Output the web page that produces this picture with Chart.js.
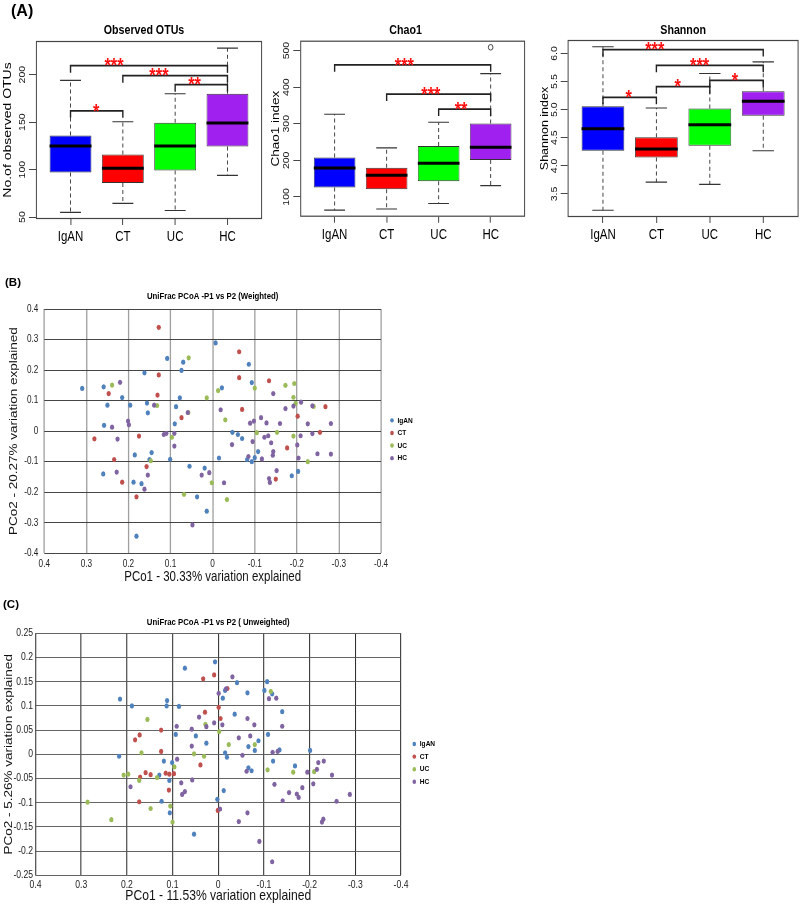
<!DOCTYPE html>
<html><head><meta charset="utf-8">
<script src="https://cdn.jsdelivr.net/npm/chart.js@4.4.1/dist/chart.umd.min.js"></script>
<style>
html,body{margin:0;padding:0;background:#fff;}
body{width:800px;height:905px;position:relative;overflow:hidden;}
canvas{position:absolute;}
.lab{position:absolute;font-family:"Liberation Sans",Arial,sans-serif;font-weight:bold;color:#000;line-height:1;}
</style></head><body>
<canvas id="a1"></canvas>
<canvas id="a2"></canvas>
<canvas id="a3"></canvas>
<canvas id="b"></canvas>
<canvas id="c"></canvas>
<div class="lab" style="left:11px;top:3px;font-size:16px;">(A)</div>
<div class="lab" style="left:5px;top:277px;font-size:11.5px;">(B)</div>
<div class="lab" style="left:3px;top:599px;font-size:11.5px;">(C)</div>
<script>
// ---------- shared ----------
const groups = ['IgAN', 'CT', 'UC', 'HC'];
const boxFill = ['#0000FF', '#FF0000', '#00FF00', '#A020F0'];

// ---------- (A) Observed OTUs ----------
const otuMin = [55, 64.5, 57, 94];
const otuQ1  = [97, 86, 99, 124.5];
const otuMed = [125, 101.5, 125, 149];
const otuQ3  = [136, 116, 149.5, 180];
const otuMax = [194, 150.5, 180, 228];
const otuOutliers = [[], [], [], []];
const otuTicks = [50, 100, 150, 200];
const otuTickLabels = ['50', '100', '150', '200'];
const otuSigFrom = [1, 2, 3, 1];
const otuSigTo = [4, 4, 4, 2];
const otuSigLevel = [209.5, 199, 189.5, 162];
const otuSigMark = ['***', '***', '**', '*'];
const otuSigMarkAt = [1.83, 2.69, 3.37, 1.49];

// ---------- (A) Chao1 ----------
const chaoMin = [64, 67, 82, 131];
const chaoQ1  = [126, 121, 143, 201];
const chaoMed = [179, 159, 192, 236];
const chaoQ3  = [208, 180, 239, 301];
const chaoMax = [326, 234, 304, 437];
const chaoOutliers = [[], [], [], [509]];
const chaoTicks = [100, 200, 300, 400, 500];
const chaoTickLabels = ['100', '200', '300', '400', '500'];
const chaoSigFrom = [1, 2, 3];
const chaoSigTo = [4, 4, 4];
const chaoSigLevel = [461, 381, 340];
const chaoSigMark = ['***', '***', '**'];
const chaoSigMarkAt = [2.34, 2.85, 3.43];

// ---------- (A) Shannon ----------
const shanMin = [3.21, 3.71, 3.67, 4.27];
const shanQ1  = [4.27, 4.15, 4.36, 4.89];
const shanMed = [4.66, 4.30, 4.73, 5.15];
const shanQ3  = [5.06, 4.51, 5.02, 5.33];
const shanMax = [6.12, 5.03, 5.645, 5.85];
const shanOutliers = [[], [], [], []];
const shanTicks = [3.5, 4.0, 4.5, 5.0, 5.5, 6.0];
const shanTickLabels = ['3.5', '4.0', '4.5', '5.0', '5.5', '6.0'];
const shanSigFrom = [1, 2, 3, 2, 1];
const shanSigTo = [4, 4, 4, 3, 2];
const shanSigLevel = [6.07, 5.79, 5.52, 5.41, 5.22];
const shanSigMark = ['***', '***', '*', '*', '*'];
const shanSigMarkAt = [1.97, 2.81, 3.47, 2.40, 1.48];

// ---------- (B) weighted UniFrac PCoA ----------
const wIgANx = [0.310,0.259,0.250,0.258,0.215,0.196,0.162,0.156,0.154,0.108,0.070,0.074,0.078,0.087,0.090,0.260,0.185,0.145,0.150,0.188,0.169,0.181,0.101,0.055,0.019,0.037,0.014,-0.007,-0.022,-0.015,-0.047,-0.060,-0.070,-0.086,-0.093,-0.082,-0.093,-0.100,-0.108,-0.188,-0.203];
const wIgANy = [0.140,0.145,0.085,0.019,0.110,0.085,0.191,0.092,0.060,0.238,0.226,0.199,0.109,0.080,0.024,-0.140,-0.078,-0.070,-0.093,-0.167,-0.172,-0.344,-0.092,-0.115,-0.121,-0.215,-0.262,0.289,0.142,-0.088,-0.004,-0.011,-0.024,0.219,0.159,-0.093,-0.100,-0.087,-0.067,-0.146,-0.132];
const wCTx = [0.128,0.128,0.131,0.247,0.281,0.175,0.234,0.215,0.157,0.181,0.074,-0.063,-0.063,-0.070,-0.134,-0.202,-0.177,-0.150,-0.268,-0.255];
const wCTy = [0.340,0.184,0.118,0.123,-0.025,-0.016,-0.093,-0.167,-0.116,-0.215,0.044,0.260,0.175,0.071,0.165,0.049,-0.055,-0.157,0.080,-0.004];
const wUCx = [0.239,0.132,0.057,0.058,0.014,-0.013,-0.030,0.097,0.147,0.068,0.002,-0.034,-0.100,-0.105,-0.173,-0.194,-0.192,-0.197,-0.153,-0.192,-0.240,-0.226];
const wUCy = [0.151,0.084,0.240,0.061,0.109,0.133,0.037,-0.020,-0.097,-0.207,-0.169,-0.224,0.141,-0.005,0.150,0.156,0.111,0.091,-0.004,-0.016,0.081,-0.100];
const wHCx = [0.220,0.239,0.226,0.228,0.201,0.199,0.139,0.116,0.110,0.091,0.091,0.154,0.162,0.059,0.048,0.026,0.008,-0.027,-0.019,-0.046,-0.089,-0.098,-0.095,-0.085,-0.115,-0.128,-0.123,-0.132,-0.117,-0.139,-0.144,-0.143,-0.134,-0.136,-0.152,-0.144,-0.173,-0.160,-0.192,-0.210,-0.201,-0.204,-0.209,-0.226,-0.237,-0.237,-0.249,-0.281,-0.281];
const wHCy = [0.160,0.013,-0.026,-0.134,0.033,0.021,0.085,-0.011,-0.007,-0.007,-0.049,-0.144,-0.190,0.061,-0.307,-0.144,-0.136,-0.169,0.070,-0.044,0.026,0.033,-0.034,-0.083,0.044,0.027,-0.020,-0.015,-0.091,-0.038,-0.067,-0.079,-0.155,-0.168,-0.129,0.123,0.074,0.025,0.082,0.095,-0.045,-0.088,-0.015,0.024,0.083,-0.008,-0.074,0.025,-0.075];
const wYTicks = [-0.4,-0.3,-0.2,-0.1,0,0.1,0.2,0.3,0.4];
const wYTickLabels = ['-0.4','-0.3','-0.2','-0.1','0','0.1','0.2','0.3','0.4'];

// ---------- (C) unweighted UniFrac PCoA ----------
const uIgANx = [0.215,0.189,0.217,0.112,0.113,0.086,0.073,0.093,0.119,0.101,0.129,0.107,0.124,0.106,0.049,0.026,0.053,0.007,-0.010,-0.015,-0.041,-0.036,-0.015,-0.019,-0.012,0.002,-0.064,-0.066,-0.066,-0.073,-0.080,-0.088,-0.101,-0.107,-0.118,-0.109,-0.140,-0.134,-0.120,-0.168,-0.201];
const uIgANy = [0.114,0.100,-0.004,0.111,0.100,0.099,0.178,0.041,-0.014,-0.017,-0.043,-0.054,-0.097,-0.121,0.038,0.023,-0.165,0.191,0.116,0.132,0.148,0.083,0.003,-0.006,-0.075,-0.093,0.127,0.016,-0.028,-0.034,0.008,0.028,0.132,0.150,0.125,0.041,0.088,0.009,-0.014,-0.024,0.008];
const uCTx = [0.033,0.009,-0.020,0.029,-0.001,-0.005,0.125,0.172,0.182,0.125,0.039,0.159,0.148,0.171,0.115,0.107,0.097,0.108,0.173,0.001];
const uCTy = [0.156,0.164,0.136,0.087,0.097,0.074,0.050,0.040,0.030,0.006,-0.022,-0.038,-0.042,-0.047,-0.039,-0.041,-0.040,-0.074,-0.098,-0.116];
const uUCx = [0.155,0.168,0.207,0.197,0.173,0.134,0.286,0.234,0.148,0.105,0.100,0.096,0.053,0.031,0.028,-0.002,-0.023,-0.080,-0.108,-0.115,-0.164,-0.210];
const uUCy = [0.072,0.003,-0.043,-0.041,-0.054,-0.048,-0.099,-0.135,-0.112,-0.107,-0.140,-0.026,0.001,-0.004,0.062,0.047,0.020,0.020,-0.032,0.130,-0.037,-0.036];
const uHCx = [0.192,0.090,0.091,0.058,0.058,0.057,0.081,0.073,0.079,0.042,0.026,0.009,-0.001,-0.009,-0.017,-0.031,-0.004,-0.045,-0.053,-0.045,-0.064,-0.070,-0.079,-0.062,-0.064,-0.090,-0.111,-0.127,-0.140,-0.119,-0.130,-0.123,-0.141,-0.118,-0.155,-0.172,-0.176,-0.184,-0.195,-0.208,-0.216,-0.219,-0.231,-0.249,-0.259,-0.230,-0.227,-0.288];
const uHCy = [-0.067,-0.010,0.058,0.052,0.017,-0.053,-0.059,-0.077,-0.083,0.077,0.057,0.065,0.126,0.061,0.135,0.160,-0.113,0.034,-0.002,-0.139,0.074,0.038,0.061,-0.035,-0.121,-0.180,0.115,0.116,0.058,0.004,0.006,-0.062,-0.096,-0.222,-0.079,-0.082,-0.089,-0.069,-0.037,-0.061,-0.031,-0.017,-0.014,-0.043,-0.097,-0.134,-0.140,-0.083];
const uYTicks = [-0.25,-0.2,-0.15,-0.1,-0.05,0,0.05,0.1,0.15,0.2,0.25];
const uYTickLabels = ['-0.25','-0.2','-0.15','-0.1','-0.05','0','0.05','0.1','0.15','0.2','0.25'];

const pcoXTicks = [-0.4,-0.3,-0.2,-0.1,0,0.1,0.2,0.3,0.4];
const pcoXTickLabels = ['-0.4','-0.3','-0.2','-0.1','0','0.1','0.2','0.3','0.4'];
const pcoColors = ['#4F81BD', '#C0504D', '#9BBB59', '#8064A2'];

// ---------- layout: the original figure is horizontally condensed ----------
const K = 0.82;
const FONT = '"Liberation Sans", Arial, sans-serif';

// draws each chart squeezed horizontally by K (crisp, inside the canvas)
const condense = {
  id: 'condense',
  beforeDraw(chart) { chart.ctx.save(); chart.ctx.scale(K, 1); },
  afterDraw(chart) { chart.ctx.restore(); }
};

// cv = canvas rect [left, top, w, h]; ca = plot area [l, t, r, b] (page px)
function setup(id, cv, ca) {
  const el = document.getElementById(id);
  const w = Math.round(cv[2] / K);
  el.width = w; el.height = cv[3];
  el.style.left = cv[0] + 'px'; el.style.top = cv[1] + 'px';
  return {
    el,
    pad: {left: 0, top: ca[1] - cv[1], right: w - (ca[2] - cv[0]) / K, bottom: 0},
    yW: (ca[0] - cv[0]) / K,
    xH: cv[1] + cv[3] - ca[3]
  };
}

function boxPlugin(s) {
  return {
    id: 'boxExtras',
    afterDatasetsDraw(chart) {
      const {ctx, chartArea: ca, scales: {x, y}} = chart;
      const meta = chart.getDatasetMeta(0);
      ctx.save();
      for (let i = 0; i < s.med.length; i++) {
        const cx = x.getPixelForValue(i + 1);
        const hw = meta.data[i].width / 2;
        ctx.strokeStyle = '#333'; ctx.lineWidth = 1.1;
        ctx.setLineDash([4, 3]);
        ctx.beginPath();
        ctx.moveTo(cx, y.getPixelForValue(s.q3[i])); ctx.lineTo(cx, y.getPixelForValue(s.max[i]));
        ctx.moveTo(cx, y.getPixelForValue(s.q1[i])); ctx.lineTo(cx, y.getPixelForValue(s.min[i]));
        ctx.stroke();
        ctx.setLineDash([]);
        ctx.beginPath();
        [s.max[i], s.min[i]].forEach(v => {
          const py = y.getPixelForValue(v);
          ctx.moveTo(cx - hw / 2, py); ctx.lineTo(cx + hw / 2, py);
        });
        ctx.stroke();
        ctx.lineWidth = 3; ctx.strokeStyle = '#000';
        const pm = y.getPixelForValue(s.med[i]);
        ctx.beginPath(); ctx.moveTo(cx - hw, pm); ctx.lineTo(cx + hw, pm); ctx.stroke();
        ctx.lineWidth = 1; ctx.strokeStyle = '#333';
        s.out[i].forEach(v => {
          ctx.beginPath(); ctx.arc(cx, y.getPixelForValue(v), 2.8, 0, Math.PI * 2); ctx.stroke();
        });
      }
      ctx.strokeStyle = '#444'; ctx.lineWidth = 1.2;
      ctx.strokeRect(ca.left + 0.5, ca.top + 0.5, ca.right - ca.left - 1, ca.bottom - ca.top - 1);
      for (let k = 0; k < s.sigFrom.length; k++) {
        const x1 = x.getPixelForValue(s.sigFrom[k]);
        const x2 = x.getPixelForValue(s.sigTo[k]);
        const py = y.getPixelForValue(s.sigLevel[k]);
        ctx.strokeStyle = '#222'; ctx.lineWidth = 1.7;
        ctx.beginPath();
        ctx.moveTo(x1, py + 7); ctx.lineTo(x1, py); ctx.lineTo(x2, py); ctx.lineTo(x2, py + 7);
        ctx.stroke();
        ctx.fillStyle = '#FF1010';
        ctx.font = 'bold 20px ' + FONT;
        ctx.textAlign = 'center'; ctx.textBaseline = 'alphabetic';
        ctx.fillText(s.sigMark[k], x.getPixelForValue(s.sigMarkAt[k]), py + 6.8);
      }
      ctx.fillStyle = '#111';
      ctx.font = '10.5px ' + FONT;
      s.ticks.forEach((v, i) => {
        const py = y.getPixelForValue(v);
        ctx.save();
        ctx.translate(ca.left - 13.5 / K, py);
        ctx.rotate(-Math.PI / 2);
        ctx.textAlign = 'center'; ctx.textBaseline = 'middle';
        ctx.fillText(s.tickLabels[i], 0, 0);
        ctx.restore();
      });
      ctx.fillStyle = '#000';
      ctx.font = 'bold 13px ' + FONT;
      ctx.textAlign = 'center'; ctx.textBaseline = 'middle';
      ctx.fillText(s.title, (ca.left + ca.right) / 2 + s.titleDx / K, 30);
      ctx.restore();
    }
  };
}

function makeBox(id, s) {
  const g = setup(id, s.cv, s.ca);
  return new Chart(g.el, {
    type: 'bar',
    data: {
      datasets: [{
        data: s.q1.map((q, i) => ({x: i + 1, y: [q, s.q3[i]]})),
        backgroundColor: boxFill,
        borderColor: '#333',
        borderWidth: 1,
        borderSkipped: false,
        barPercentage: 0.8,
        categoryPercentage: 1
      }]
    },
    options: {
      responsive: false, animation: false, events: [], devicePixelRatio: 1,
      layout: {padding: g.pad},
      plugins: {legend: {display: false}, tooltip: {enabled: false}},
      scales: {
        x: {
          type: 'linear', min: 0.34, max: 4.66, offset: false,
          afterBuildTicks: sc => { sc.ticks = groups.map((n, i) => ({value: i + 1})); },
          afterFit: sc => { sc.height = g.xH; },
          ticks: {callback: (v, i) => groups[i], font: {family: FONT, size: 14}, color: '#000', padding: 4, maxRotation: 0, autoSkip: false},
          grid: {offset: false, drawOnChartArea: false, drawTicks: true, tickLength: 6, color: '#333'},
          border: {display: false}
        },
        y: {
          type: 'linear', min: s.yMin, max: s.yMax,
          afterBuildTicks: sc => { sc.ticks = s.ticks.map(v => ({value: v})); },
          afterFit: sc => { sc.width = g.yW; },
          ticks: {display: false},
          grid: {drawOnChartArea: false, drawTicks: true, tickLength: 7 / K, color: '#333'},
          border: {display: false},
          title: {display: true, text: s.yTitle, font: {family: FONT, size: s.yTitleSize}, color: '#000',
                  padding: {top: s.yTitleCenter / K - s.yTitleSize * 0.6, bottom: 0}}
        }
      }
    },
    plugins: [boxPlugin(s), condense]
  });
}

makeBox('a1', {
  min: otuMin, q1: otuQ1, med: otuMed, q3: otuQ3, max: otuMax, out: otuOutliers,
  ticks: otuTicks, tickLabels: otuTickLabels,
  sigFrom: otuSigFrom, sigTo: otuSigTo, sigLevel: otuSigLevel, sigMark: otuSigMark, sigMarkAt: otuSigMarkAt,
  yMin: 48, yMax: 235.5, title: 'Observed OTUs', titleDx: -5,
  yTitle: 'No.of observed OTUs', yTitleSize: 14, yTitleCenter: 8,
  cv: [0, 0, 266, 258], ca: [36, 41, 262, 219]
});
makeBox('a2', {
  min: chaoMin, q1: chaoQ1, med: chaoMed, q3: chaoQ3, max: chaoMax, out: chaoOutliers,
  ticks: chaoTicks, tickLabels: chaoTickLabels,
  sigFrom: chaoSigFrom, sigTo: chaoSigTo, sigLevel: chaoSigLevel, sigMark: chaoSigMark, sigMarkAt: chaoSigMarkAt,
  yMin: 46, yMax: 527, title: 'Chao1', titleDx: -7,
  yTitle: 'Chao1 index', yTitleSize: 13.5, yTitleCenter: 9.5,
  cv: [266, 0, 264, 258], ca: [300.3, 40.7, 525, 216.7]
});
makeBox('a3', {
  min: shanMin, q1: shanQ1, med: shanMed, q3: shanQ3, max: shanMax, out: shanOutliers,
  ticks: shanTicks, tickLabels: shanTickLabels,
  sigFrom: shanSigFrom, sigTo: shanSigTo, sigLevel: shanSigLevel, sigMark: shanSigMark, sigMarkAt: shanSigMarkAt,
  yMin: 3.09, yMax: 6.24, title: 'Shannon', titleDx: 0,
  yTitle: 'Shannon index', yTitleSize: 12.5, yTitleCenter: 15,
  cv: [530, 0, 270, 258], ca: [567.7, 40, 798.5, 217]
});

function zip(xs, ys) { return xs.map((v, i) => ({x: v, y: ys[i]})); }

function pcoaPlugin(c) {
  return {
    id: 'pcoaExtras',
    afterDraw(chart) {
      const {ctx, chartArea: ca} = chart;
      ctx.save();
      ctx.fillStyle = '#000';
      ctx.font = 'bold 9.5px ' + FONT;
      ctx.textAlign = 'center'; ctx.textBaseline = 'middle';
      ctx.fillText(c.title, (ca.left + ca.right) / 2, c.titleY);
      const lx = ca.right + c.legDx / K;
      const ly = (ca.top + ca.bottom) / 2 + c.legDy;
      chart.data.datasets.forEach((d, i) => {
        const yy = ly + i * 12.6;
        ctx.fillStyle = d.backgroundColor;
        ctx.beginPath(); ctx.arc(lx, yy, 2.2, 0, Math.PI * 2); ctx.fill();
        ctx.fillStyle = '#000';
        ctx.font = 'bold 8px ' + FONT;
        ctx.textAlign = 'left';
        ctx.fillText(d.label, lx + 5.5 / K, yy);
      });
      ctx.restore();
    }
  };
}

function makePcoa(id, c) {
  const g = setup(id, c.cv, c.ca);
  return new Chart(g.el, {
    type: 'scatter',
    data: {
      datasets: c.sets.map((d, i) => ({
        label: groups[i], data: zip(d[0], d[1]),
        backgroundColor: pcoColors[i], borderColor: pcoColors[i],
        pointRadius: 2.6, pointBorderWidth: 0, pointHoverRadius: 2.6, order: 4 - i
      }))
    },
    options: {
      responsive: false, animation: false, events: [], devicePixelRatio: 1,
      layout: {padding: g.pad},
      plugins: {legend: {display: false}, tooltip: {enabled: false}},
      scales: {
        x: {
          type: 'linear', reverse: true, min: -0.4, max: 0.4,
          afterBuildTicks: sc => { sc.ticks = pcoXTicks.map(v => ({value: v})); },
          afterFit: sc => { sc.height = g.xH; },
          ticks: {callback: (v, i) => pcoXTickLabels[i], font: {family: FONT, size: c.tickSize}, color: '#222', padding: c.xTickPad, maxRotation: 0, autoSkip: false},
          grid: {color: c.xGrid, lineWidth: c.xGridW, drawTicks: false},
          border: {display: false},
          title: {display: true, text: c.xTitle, font: {family: FONT, size: c.xTitleSize}, color: '#111', padding: {top: 0, bottom: c.xTitlePad}}
        },
        y: {
          type: 'linear', min: c.yTicks[0], max: c.yTicks[c.yTicks.length - 1],
          afterBuildTicks: sc => { sc.ticks = c.yTicks.map(v => ({value: v})); },
          afterFit: sc => { sc.width = g.yW; },
          ticks: {callback: (v, i) => c.yTickLabels[i], font: {family: FONT, size: c.tickSize}, color: '#222', padding: c.yTickPad / K, autoSkip: false},
          grid: {color: c.yGrid, lineWidth: c.yGridW, drawTicks: false},
          border: {display: false},
          title: {display: true, text: c.yTitle, font: {family: FONT, size: 13.5}, color: '#111',
                  padding: {top: c.yTitleCenter / K - 8.1, bottom: 0}}
        }
      }
    },
    plugins: [pcoaPlugin(c), condense]
  });
}

makePcoa('b', {
  sets: [[wIgANx, wIgANy], [wCTx, wCTy], [wUCx, wUCy], [wHCx, wHCy]],
  yTicks: wYTicks, yTickLabels: wYTickLabels,
  title: 'UniFrac PCoA -P1 vs P2 (Weighted)', titleY: 6.5,
  xTitle: 'PCo1 - 30.33% variation explained', xTitleSize: 14, xTitlePad: 4.9,
  yTitle: 'PCo2 - 20.27% variation explained', yTitleCenter: 14,
  cv: [0, 290, 460, 300], ca: [44.3, 309, 381, 553.3],
  tickSize: 10, xTickPad: 4.7, yTickPad: 6,
  xGrid: '#a0a0a0', xGridW: 1.6, yGrid: '#333', yGridW: 1,
  legDx: 11, legDy: -10.8
});
makePcoa('c', {
  sets: [[uIgANx, uIgANy], [uCTx, uCTy], [uUCx, uUCy], [uHCx, uHCy]],
  yTicks: uYTicks, yTickLabels: uYTickLabels,
  title: 'UniFrac PCoA -P1 vs P2 ( Unweighted)', titleY: 32.3,
  xTitle: 'PCo1 - 11.53% variation explained', xTitleSize: 14.8, xTitlePad: 0.6,
  yTitle: 'PCo2 - 5.26% variation explained', yTitleCenter: 9,
  cv: [0, 590, 480, 315], ca: [35.5, 633.3, 401, 875.3],
  tickSize: 10.5, xTickPad: 4, yTickPad: 2.5,
  xGrid: '#222', xGridW: 1.2, yGrid: '#555', yGridW: 1,
  legDx: 13.3, legDy: -10.3
});
</script>
</body></html>
